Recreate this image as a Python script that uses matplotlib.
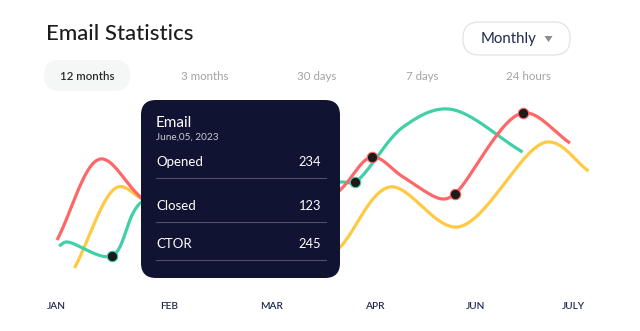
import numpy as np
import matplotlib
matplotlib.use("Agg")
import matplotlib.pyplot as plt
from matplotlib.patches import FancyBboxPatch, Polygon

plt.rcParams["font.family"] = ["Lato", "DejaVu Sans"]

# ---- data -----------------------------------------------------------------
months = ["JAN", "FEB", "MAR", "APR", "JUN", "JULY"]
month_pos = [0.0, 1.1, 2.09, 3.09, 4.07, 5.02]

opened_x = [0.01, 0.43, 0.82, 1.40, 2.20, 2.76, 3.07, 3.37, 3.75, 3.87, 4.53, 4.99]
opened_y = [50, 131, 93, 45, 50, 100, 133, 113, 91, 96, 177, 147]
opened_marks = [6, 9, 10]

closed_x = [0.03, 0.10, 0.54, 0.82, 1.50, 2.30, 2.76, 2.90, 3.37, 3.81, 4.53]
closed_y = [44, 48, 34, 87, 115, 100, 108, 108, 163, 181, 138]
closed_marks = [2, 7]

ctor_x = [0.18, 0.60, 0.82, 1.50, 2.45, 2.76, 3.24, 3.90, 4.77, 5.17]
ctor_y = [22, 103, 92, 40, 15, 43, 103, 63, 148, 119]

tooltip_rows = ["Opened", "Closed", "CTOR"]
tooltip_vals = [234, 123, 245]

tabs = ["12 months", "3 months", "30 days", "7 days", "24 hours"]

RED = "#fd6767"
GREEN = "#41cfa8"
YELLOW = "#ffc943"
NAVY = "#101331"


def spline(xs, ys, n=60, sx=103.0):
    """Centripetal Catmull-Rom curve through the given knots."""
    P = np.column_stack([np.asarray(xs, float) * sx, np.asarray(ys, float)])
    P = np.vstack([2 * P[0] - P[1], P, 2 * P[-1] - P[-2]])
    out = []
    for i in range(1, len(P) - 2):
        p0, p1, p2, p3 = P[i - 1], P[i], P[i + 1], P[i + 2]

        def nxt(t, a, b):
            return t + max(np.linalg.norm(b - a), 1e-6) ** 0.5

        t0 = 0.0
        t1 = nxt(t0, p0, p1)
        t2 = nxt(t1, p1, p2)
        t3 = nxt(t2, p2, p3)
        t = np.linspace(t1, t2, n)[:, None]
        a1 = (t1 - t) / (t1 - t0) * p0 + (t - t0) / (t1 - t0) * p1
        a2 = (t2 - t) / (t2 - t1) * p1 + (t - t1) / (t2 - t1) * p2
        a3 = (t3 - t) / (t3 - t2) * p2 + (t - t2) / (t3 - t2) * p3
        b1 = (t2 - t) / (t2 - t0) * a1 + (t - t0) / (t2 - t0) * a2
        b2 = (t3 - t) / (t3 - t1) * a2 + (t - t1) / (t3 - t1) * a3
        c = (t2 - t) / (t2 - t1) * b1 + (t - t1) / (t2 - t1) * b2
        out.append(c if i == 1 else c[1:])
    C = np.vstack(out)
    return C[:, 0] / sx, C[:, 1]


W, H = 640, 331
fig = plt.figure(figsize=(W / 100, H / 100), dpi=100)
fig.patch.set_facecolor("white")

# ---- chart area -------------------------------------------------------------
ax = fig.add_axes([0, (H - 290) / H, 1, 200 / H])
ax.set_xlim(-56 / 103, (W - 56) / 103)
ax.set_ylim(0, 200)
for s in ax.spines.values():
    s.set_visible(False)
ax.set_yticks([])
ax.set_xticks(month_pos)
ax.set_xticklabels(months, fontsize=7.3, color="#1f2a4d", fontweight="semibold")
ax.tick_params(axis="x", length=0, pad=8.6)
ax.patch.set_alpha(0)

series = [
    (ctor_x, ctor_y, YELLOW, []),
    (closed_x, closed_y, GREEN, closed_marks),
    (opened_x, opened_y, RED, opened_marks),
]
for xs, ys, col, marks in series:
    cx, cy = spline(xs, ys)
    ax.plot(cx, cy, color=col, lw=2.3, solid_capstyle="butt", clip_on=False, zorder=2)
for xs, ys, col, marks in series:
    if marks:
        ax.plot([xs[i] for i in marks], [ys[i] for i in marks], "o", ms=7.5,
                mfc="#1b1b1b", mec=col, mew=0.8, clip_on=False, zorder=4)

# ---- header, tabs, tooltip (pixel overlay) --------------------------------
ov = fig.add_axes([0, 0, 1, 1], zorder=5)
ov.set_xlim(0, W)
ov.set_ylim(H, 0)
ov.axis("off")
ov.patch.set_alpha(0)

ov.text(46, 34, "Email Statistics", fontsize=16, color="#1b1b20",
        ha="left", va="center", fontweight="medium")

# period selector
ov.add_patch(FancyBboxPatch((463, 22), 107, 33,
                            boxstyle="round,pad=0,rounding_size=16",
                            fc="white", ec="#e3e3e3", lw=0.9))
ov.text(509, 39.5, "Monthly", fontsize=10.8, color="#1f2a4d", ha="center", va="center")
ov.add_patch(Polygon([[544.5, 36], [552.5, 36], [548.5, 42]], closed=True,
                     fc="#8c8c8c", ec="none"))

# range tabs
ov.add_patch(FancyBboxPatch((44, 60), 86, 31,
                            boxstyle="round,pad=0,rounding_size=15.5",
                            fc="#f5f6f6", ec="none"))
tab_cx = [87, 205, 317, 422, 528]
for i, (lab, cx) in enumerate(zip(tabs, tab_cx)):
    ov.text(cx, 76, lab, fontsize=8.3, ha="center", va="center",
            color="#2a2a2a" if i == 0 else "#a3a3a3",
            fontweight="semibold" if i == 0 else "normal")

# tooltip card
ov.add_patch(FancyBboxPatch((141, 100), 199, 178,
                            boxstyle="round,pad=0,rounding_size=15",
                            fc=NAVY, ec="none"))
ov.text(156, 123, "Email", fontsize=11, color="white", ha="left", va="center")
ov.text(156, 137.5, "June,05, 2023", fontsize=7.2, color="#c9cad6", ha="left", va="center")
row_y = [162, 206, 244]
line_y = [178, 222, 260]
for lab, val, ry, ly in zip(tooltip_rows, tooltip_vals, row_y, line_y):
    ov.text(156, ry, lab, fontsize=9.5, color="white", ha="left", va="center")
    ov.text(321, ry, str(val), fontsize=9.3, color="white", ha="right", va="center")
    ov.plot([156, 326], [ly, ly], color="#4d5068", lw=0.8)

fig.savefig("out.png", dpi=100)
